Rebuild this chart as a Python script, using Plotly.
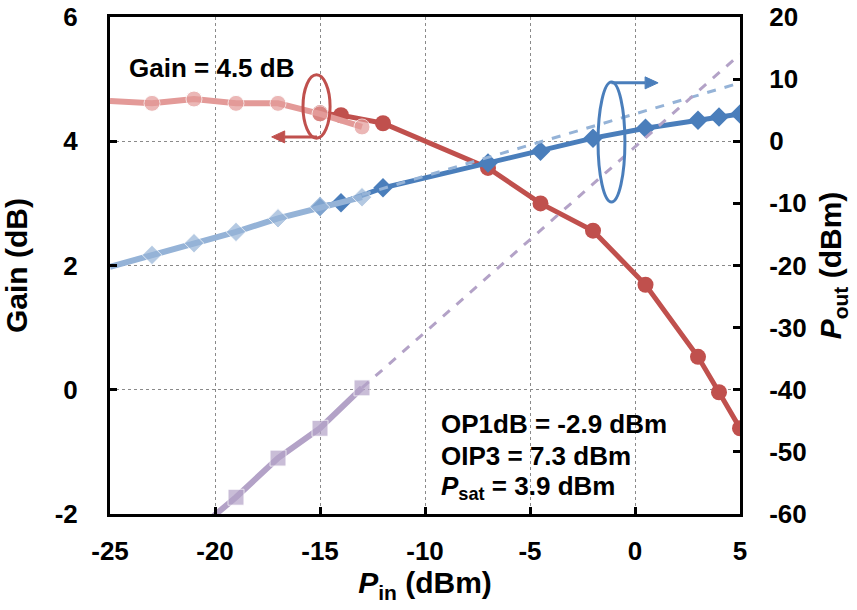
import plotly.graph_objects as go

# ---- data ----
gain_low_x = [-25, -23, -21, -19, -17, -15, -13]
gain_low = [4.65, 4.61, 4.68, 4.61, 4.61, 4.44, 4.23]

gain_high_x = [-15, -14, -12, -7, -4.5, -2, 0.5, 3, 4, 5]
gain_high = [4.45, 4.42, 4.29, 3.57, 3.0, 2.56, 1.69, 0.53, -0.04, -0.62]

pout_low_x = [-25, -23, -21, -19, -17, -15, -13]
pout_low = [-20.2, -18.3, -16.4, -14.6, -12.4, -10.6, -9.0]

pout_high_x = [-15, -14, -12, -7, -4.5, -2, 0.5, 3, 4, 5]
pout_high = [-10.5, -9.9, -7.5, -3.5, -1.6, 0.5, 2.1, 3.4, 3.9, 4.4]

fund_ext_x = [-13, 5]
fund_ext = [-8.6, 9.4]

im3_x = [-21, -19, -17, -15, -13]
im3 = [-63.0, -57.3, -51.0, -46.2, -39.7]

im3_ext_x = [-13, 5]
im3_ext = [-39.7, 14.0]

x_ticks = [-25, -20, -15, -10, -5, 0, 5]
x_ticktext = ["-25", "-20", "-15", "-10", "-5", "0", "5"]
gain_ticks = [-2, 0, 2, 4, 6]
gain_ticktext = ["-2", "0", "2", "4", "6"]
pout_ticks = [-60, -50, -40, -30, -20, -10, 0, 10, 20]
pout_ticktext = ["-60", "-50", "-40", "-30", "-20", "-10", "0", "10", "20"]

# ---- styles ----
FONT = "Liberation Sans, Arial, sans-serif"
RED = "#C0504D"
PINK = "#E39A98"
BLUE = "#4A7EBB"
LBLUE = "#95B3D7"
PURPLE = "#B3A2C7"

fig = go.Figure()

fig.add_trace(go.Scatter(x=gain_high_x, y=gain_high, mode="lines+markers",
                         line=dict(color=RED, width=5),
                         marker=dict(symbol="circle", size=16, color=RED),
                         yaxis="y"))
fig.add_trace(go.Scatter(x=gain_low_x, y=gain_low, mode="lines+markers",
                         line=dict(color=PINK, width=6),
                         marker=dict(symbol="circle", size=[0] + [16] * (len(gain_low_x) - 1), color=PINK),
                         yaxis="y"))
fig.add_trace(go.Scatter(x=pout_high_x, y=pout_high, mode="lines+markers",
                         line=dict(color=BLUE, width=5),
                         marker=dict(symbol="diamond", size=15, color=BLUE),
                         yaxis="y2"))
fig.add_trace(go.Scatter(x=pout_low_x, y=pout_low, mode="lines+markers",
                         line=dict(color=LBLUE, width=6),
                         marker=dict(symbol="diamond", size=[0] + [15] * (len(pout_low_x) - 1), color=LBLUE),
                         yaxis="y2"))
fig.add_trace(go.Scatter(x=im3_x, y=im3, mode="lines+markers",
                         line=dict(color=PURPLE, width=6),
                         marker=dict(symbol="square", size=[0] + [16] * (len(im3_x) - 1), color=PURPLE),
                         yaxis="y2"))
fig.add_trace(go.Scatter(x=fund_ext_x, y=fund_ext, mode="lines",
                         line=dict(color=LBLUE, width=3, dash="dash"),
                         yaxis="y2"))
fig.add_trace(go.Scatter(x=im3_ext_x, y=im3_ext, mode="lines",
                         line=dict(color=PURPLE, width=3, dash="dash"),
                         yaxis="y2"))

tickfont = dict(family=FONT, size=26, color="black", weight="bold")
afont = dict(family=FONT, size=30, color="black", weight="bold")

fig.update_layout(
    width=857, height=610,
    margin=dict(l=110, r=117, t=17, b=96, autoexpand=False),
    paper_bgcolor="white", plot_bgcolor="white",
    showlegend=False,
    xaxis=dict(range=[-25, 5], tickvals=x_ticks, ticktext=x_ticktext, ticks="inside", ticklen=7,
               tickwidth=3, tickcolor="black", showline=True, linecolor="black", linewidth=3,
               mirror=True, showgrid=True, gridcolor="#8a8a8a", griddash="dot", gridwidth=1,
               zeroline=False, tickfont=tickfont, ticklabelstandoff=12, automargin=False,
               title=dict(text="<i>P</i><sub>in</sub> (dBm)", font=afont, standoff=4)),
    yaxis=dict(range=[-2, 6], tickvals=gain_ticks, ticktext=gain_ticktext, ticks="inside", ticklen=7,
               tickwidth=3, tickcolor="black", showline=True, linecolor="black", linewidth=3,
               showgrid=True, gridcolor="#8a8a8a", griddash="dot", gridwidth=1,
               zeroline=False, tickfont=tickfont, ticklabelstandoff=24, automargin=False,
               title=dict(text="Gain (dB)", font=afont, standoff=20)),
    yaxis2=dict(range=[-60, 20], tickvals=pout_ticks, ticktext=pout_ticktext, ticks="inside",
                ticklen=7, tickwidth=3, tickcolor="black", showline=True, linecolor="black",
                linewidth=3, overlaying="y", side="right", showgrid=False, zeroline=False,
                tickfont=tickfont, ticklabelstandoff=21, automargin=False,
                title=dict(text="<i>P</i><sub>out</sub> (dBm)", font=afont, standoff=15)),
)

# ellipses
fig.add_shape(type="circle", xref="x", yref="y", x0=-15.81, x1=-14.52, y0=4.05, y1=5.07,
              line=dict(color=RED, width=3))
fig.add_shape(type="circle", xref="x", yref="y2", x0=-1.76, x1=-0.48, y0=-9.78, y1=9.54,
              line=dict(color=BLUE, width=3))

# arrows (shaft + triangular head), sizes in pixels converted to data units
XU = 30 / 630.0      # x data units per pixel
GU = 8 / 497.0       # gain units per pixel
PU = 80 / 497.0      # Pout units per pixel

# red arrow pointing left
r_tail_x, r_head_x, r_y = -15.14, -17.3, 4.07
r_base_x = r_head_x + 13 * XU
fig.add_shape(type="line", xref="x", yref="y", x0=r_tail_x, x1=r_base_x, y0=r_y, y1=r_y,
              line=dict(color=RED, width=3))
fig.add_shape(type="path", xref="x", yref="y",
              path=f"M {r_head_x} {r_y} L {r_base_x} {r_y + 6 * GU} L {r_base_x} {r_y - 6 * GU} Z",
              fillcolor=RED, line=dict(color=RED, width=1))

# blue arrow pointing right
b_tail_x, b_head_x, b_y = -1.12, 1.1, 9.4
b_base_x = b_head_x - 13 * XU
fig.add_shape(type="line", xref="x", yref="y2", x0=b_tail_x, x1=b_base_x, y0=b_y, y1=b_y,
              line=dict(color=BLUE, width=3))
fig.add_shape(type="path", xref="x", yref="y2",
              path=f"M {b_head_x} {b_y} L {b_base_x} {b_y + 6 * PU} L {b_base_x} {b_y - 6 * PU} Z",
              fillcolor=BLUE, line=dict(color=BLUE, width=1))

tfont = dict(family=FONT, size=26, color="black", weight="bold")
fig.add_annotation(x=-24.2, y=5.18, xref="x", yref="y", text="Gain = 4.5 dB", showarrow=False,
                   xanchor="left", yanchor="middle", font=tfont)
fig.add_annotation(x=-9.35, y=-0.55, xref="x", yref="y", text="OP1dB = -2.9 dBm", showarrow=False,
                   xanchor="left", yanchor="middle", font=tfont)
fig.add_annotation(x=-9.35, y=-1.07, xref="x", yref="y", text="OIP3 = 7.3 dBm", showarrow=False,
                   xanchor="left", yanchor="middle", font=tfont)
fig.add_annotation(x=-9.35, y=-1.58, xref="x", yref="y", text="<i>P</i><sub>sat</sub> = 3.9 dBm",
                   showarrow=False, xanchor="left", yanchor="middle", font=tfont)

fig.write_html("out.html")
